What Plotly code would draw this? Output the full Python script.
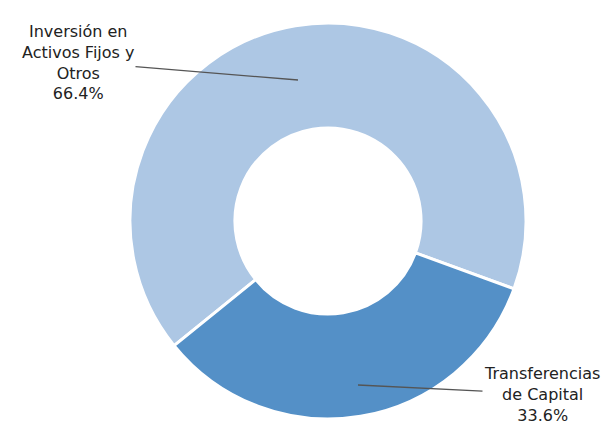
import plotly.graph_objects as go

labels = ["Inversión en<br>Activos Fijos y<br>Otros", "Transferencias<br>de Capital"]
values = [66.4, 33.6]
colors = ["#adc7e4", "#5490c7"]

fig = go.Figure(
    go.Pie(
        labels=labels,
        values=values,
        hole=0.47,
        sort=False,
        direction="clockwise",
        rotation=231,
        marker=dict(colors=colors, line=dict(color="white", width=3)),
        textinfo="none",
        hoverinfo="label+percent",
        showlegend=False,
        domain=dict(x=[(320 - 198) / 613, (320 + 198) / 613], y=[14 / 425, 410 / 425]),
    )
)

total = sum(values)
pct = [v / total * 100 for v in values]

# leader lines: point on the ring, text offset from it (pixels)
fig.add_annotation(
    x=290, y=72, xref="x", yref="y",
    text=f"{labels[0]}<br>{pct[0]:.1f}%",
    ax=-220, ay=-18, showarrow=True, arrowhead=0, arrowwidth=1.3, arrowcolor="#555",
    font=dict(size=16, color="#222"), align="center",
)
fig.add_annotation(
    x=350, y=377, xref="x", yref="y",
    text=f"{labels[1]}<br>{pct[1]:.1f}%",
    ax=184, ay=9, showarrow=True, arrowhead=0, arrowwidth=1.3, arrowcolor="#555",
    font=dict(size=16, color="#222"), align="center",
)

fig.update_xaxes(range=[0, 613], visible=False)
fig.update_yaxes(range=[425, 0], visible=False)

fig.update_layout(
    width=613,
    height=425,
    margin=dict(l=0, r=0, t=0, b=0),
    paper_bgcolor="white",
    plot_bgcolor="rgba(0,0,0,0)",
    font=dict(family="DejaVu Sans, sans-serif"),
)

fig.write_html("out.html")
